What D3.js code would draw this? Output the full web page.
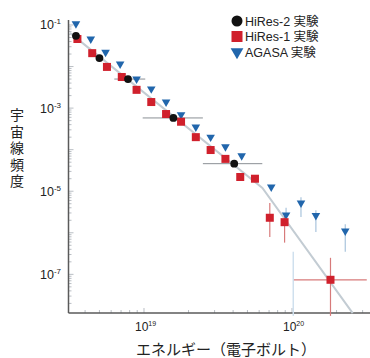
<!DOCTYPE html>
<html>
<head>
<meta charset="utf-8">
<script src="https://cdn.jsdelivr.net/npm/d3@7"></script>
<style>
  body { margin: 0; background: #fff; }
  text { font-family: "Liberation Sans", "Noto Sans CJK JP", sans-serif; fill: #222; }
</style>
</head>
<body>
<div id="spectrumChart"></div>
<script>
// HiRes-1 (red squares)
const hires1Energy = [3.55e18, 4.47e18, 5.62e18, 7.08e18, 8.91e18, 1.12e19, 1.41e19, 1.78e19,
    2.24e19, 2.82e19, 3.55e19, 4.47e19, 5.62e19, 7.08e19, 8.91e19, 1.82e20];
const hires1Flux = [4.6e-2, 2.1e-2, 9.8e-3, 5.6e-3, 2.75e-3, 1.4e-3, 7.2e-4, 4.7e-4,
    2.0e-4, 9.8e-5, 6.0e-5, 2.2e-5, 2.0e-5, 2.3e-6, 1.8e-6, 7.4e-8];
// error bars for the last few HiRes-1 points: [energy, fluxLow, fluxHigh, energyLow, energyHigh]
const hires1Errors = [
    [7.08e19, 7.9e-7, 5.2e-6, null, null],
    [8.91e19, 5.8e-7, 2.6e-6, null, null],
    [1.82e20, 1.0e-8, 2.5e-7, 1.03e20, 3.2e20]
];

// HiRes-2 (black circles)
const hires2Energy = [3.47e18, 5.0e18, 7.8e18, 1.58e19, 4.07e19];
const hires2Flux = [5.5e-2, 1.6e-2, 5.0e-3, 5.8e-4, 4.6e-5];
const hires2Bins = [null, null, [6.3e18, 1.02e19], [9.8e18, 2.5e19], [2.5e19, 6.3e19]];

// AGASA (blue triangles)
const agasaEnergy = [3.47e18, 4.37e18, 5.5e18, 6.9e18, 8.91e18, 1.12e19, 1.41e19, 1.78e19,
    2.24e19, 2.82e19, 3.55e19, 4.57e19, 7.24e19, 9.12e19, 1.15e20, 1.45e20, 2.29e20];
const agasaFlux = [1.07e-1, 4.6e-2, 2.2e-2, 1.15e-2, 5.0e-3, 2.9e-3, 1.4e-3, 6.9e-4,
    3.5e-4, 2.0e-4, 1.17e-4, 7.1e-5, 1.26e-5, 2.7e-6, 5.2e-6, 2.6e-6, 1.1e-6];
const agasaErrors = [
    [9.12e19, 1.45e-6, 4.0e-6],
    [1.15e20, 2.4e-6, 7.2e-6],
    [1.45e20, 1.05e-6, 3.5e-6],
    [2.29e20, 3.5e-7, 1.6e-6]
];
const agasaLimit = [1.02e20, 1.0e-8, 3.5e-7];

// broken power-law fit
const fitLine = [[3.16e18, 6.46e-2], [6.31e19, 1.2e-5], [2.57e20, 1.17e-8]];

const yTickValues = [1e-1, 1e-3, 1e-5, 1e-7];
const yTickLabels = ["-1", "-3", "-5", "-7"];
const xTickValues = [1e19, 1e20];
const xTickLabels = ["19", "20"];

const legendLabels = ["HiRes-2 実験", "HiRes-1 実験", "AGASA 実験"];
const yTitle = "宇宙線頻度";
const xTitle = "エネルギー（電子ボルト）";

function drawSvg() {
    const width = 370, height = 358;
    const left = 68.5, bottom = 313, top = 20;

    const svg = d3.select("#spectrumChart")
        .append("svg")
        .attr("width", width)
        .attr("height", height);

    const x = d3.scaleLog()
        .domain([Math.pow(10, 18.49), Math.pow(10, 20.527)])
        .range([left, width]);
    const y = d3.scaleLog()
        .domain([Math.pow(10, -7.93), Math.pow(10, -0.88)])
        .range([bottom, top]);

    // minor ticks inside the axes
    const yMinor = [];
    for (let e = -8; e <= -1; e++) {
        for (let m = 1; m < 10; m++) {
            const v = m * Math.pow(10, e);
            if (v >= y.domain()[0] && v <= y.domain()[1]) yMinor.push(v);
        }
    }
    svg.append("g").selectAll("line")
        .data(yMinor)
        .enter()
        .append("line")
        .attr("x1", left)
        .attr("x2", d => left + (Math.abs(Math.log10(d) % 1) < 1e-9 ? 5 : 3))
        .attr("y1", d => y(d))
        .attr("y2", d => y(d))
        .attr("stroke", "#b9bec4")
        .attr("stroke-width", 1);

    const xMinor = [];
    for (let e = 18; e <= 20; e++) {
        for (let m = 1; m < 10; m++) {
            const v = m * Math.pow(10, e);
            if (v >= x.domain()[0] && v <= x.domain()[1]) xMinor.push(v);
        }
    }
    svg.append("g").selectAll("line")
        .data(xMinor)
        .enter()
        .append("line")
        .attr("x1", d => x(d))
        .attr("x2", d => x(d))
        .attr("y1", bottom)
        .attr("y2", d => bottom - (Math.abs(Math.log10(d) % 1) < 1e-9 ? 5 : 3))
        .attr("stroke", "#b9bec4")
        .attr("stroke-width", 1);

    // axis lines
    svg.append("line")
        .attr("x1", left).attr("x2", left)
        .attr("y1", top).attr("y2", bottom)
        .attr("stroke", "#5a5a5a").attr("stroke-width", 1.5);
    svg.append("line")
        .attr("x1", left).attr("x2", width)
        .attr("y1", bottom).attr("y2", bottom)
        .attr("stroke", "#5a5a5a").attr("stroke-width", 1.5);

    // tick labels
    yTickValues.forEach((v, i) => {
        const t = svg.append("text")
            .attr("x", 61)
            .attr("y", y(v) + 4.5)
            .attr("text-anchor", "end")
            .attr("font-size", "12.5px");
        t.append("tspan").text("10");
        t.append("tspan").attr("dy", -5).attr("font-size", "8px").text(yTickLabels[i]);
    });
    xTickValues.forEach((v, i) => {
        const t = svg.append("text")
            .attr("x", x(v) - 9)
            .attr("y", 331)
            .attr("font-size", "12px");
        t.append("tspan").text("10");
        t.append("tspan").attr("dy", -5).attr("font-size", "7px").text(xTickLabels[i]);
    });

    // fit line
    const line = d3.line()
        .x(d => x(d[0]))
        .y(d => y(d[1]));
    svg.append("path")
        .datum(fitLine)
        .attr("d", line)
        .attr("fill", "none")
        .attr("stroke", "#c3ccd3")
        .attr("stroke-width", 2);

    // AGASA limit line
    svg.append("line")
        .attr("x1", x(agasaLimit[0])).attr("x2", x(agasaLimit[0]))
        .attr("y1", y(agasaLimit[1])).attr("y2", y(agasaLimit[2]))
        .attr("stroke", "#cfe0ee").attr("stroke-width", 1.5);

    // HiRes-2 bin widths
    svg.append("g").selectAll("line")
        .data(hires2Bins.map((b, i) => [b, hires2Flux[i]]).filter(d => d[0]))
        .enter()
        .append("line")
        .attr("x1", d => x(d[0][0]))
        .attr("x2", d => x(d[0][1]))
        .attr("y1", d => y(d[1]))
        .attr("y2", d => y(d[1]))
        .attr("stroke", "#8a8f94")
        .attr("stroke-width", 1);

    // HiRes-1 error bars
    const errG = svg.append("g")
        .attr("stroke", "#d77a7a")
        .attr("stroke-width", 1.2);
    errG.selectAll(".vbar")
        .data(hires1Errors)
        .enter()
        .append("line")
        .attr("x1", d => x(d[0]))
        .attr("x2", d => x(d[0]))
        .attr("y1", d => y(d[1]))
        .attr("y2", d => y(d[2]));
    errG.selectAll(".hbar")
        .data(hires1Errors.filter(d => d[3]))
        .enter()
        .append("line")
        .attr("x1", d => x(d[3]))
        .attr("x2", d => x(d[4]))
        .attr("y1", d => y(hires1Flux[hires1Flux.length - 1]))
        .attr("y2", d => y(hires1Flux[hires1Flux.length - 1]));

    // AGASA error bars
    svg.append("g").selectAll("line")
        .data(agasaErrors)
        .enter()
        .append("line")
        .attr("x1", d => x(d[0]))
        .attr("x2", d => x(d[0]))
        .attr("y1", d => y(d[1]))
        .attr("y2", d => y(d[2]))
        .attr("stroke", "#a9c4dc")
        .attr("stroke-width", 1.2);

    // AGASA triangles
    const tri = d3.symbol().type(d3.symbolTriangle).size(32);
    svg.append("g").selectAll("path")
        .data(agasaEnergy)
        .enter()
        .append("path")
        .attr("d", tri)
        .attr("transform", (d, i) => "translate(" + x(d) + "," + y(agasaFlux[i]) + ") rotate(180)")
        .attr("fill", "#2166ac");

    // HiRes-1 squares
    svg.append("g").selectAll("rect")
        .data(hires1Energy)
        .enter()
        .append("rect")
        .attr("x", d => x(d) - 4)
        .attr("y", (d, i) => y(hires1Flux[i]) - 4)
        .attr("width", 8)
        .attr("height", 8)
        .attr("fill", "#d0202c");

    // HiRes-2 circles
    svg.append("g").selectAll("circle")
        .data(hires2Energy)
        .enter()
        .append("circle")
        .attr("cx", d => x(d))
        .attr("cy", (d, i) => y(hires2Flux[i]))
        .attr("r", 3.9)
        .attr("fill", "#111");

    // legend
    const legend = svg.append("g").attr("transform", "translate(237,21)");
    legend.append("circle").attr("cx", 0).attr("cy", 0).attr("r", 5.5).attr("fill", "#111");
    legend.append("rect").attr("x", -5.5).attr("y", 10).attr("width", 11).attr("height", 11).attr("fill", "#d0202c");
    legend.append("path")
        .attr("d", d3.symbol().type(d3.symbolTriangle).size(70))
        .attr("transform", "translate(0,31) rotate(180)")
        .attr("fill", "#2166ac");
    legend.selectAll("text")
        .data(legendLabels)
        .enter()
        .append("text")
        .attr("x", 8)
        .attr("y", (d, i) => i * 15.5 + 4.5)
        .attr("font-size", "12.5px")
        .text(d => d);

    // axis titles
    svg.append("g").selectAll("text")
        .data(yTitle.split(""))
        .enter()
        .append("text")
        .attr("x", 17)
        .attr("y", (d, i) => 120 + i * 16.5)
        .attr("text-anchor", "middle")
        .attr("font-family", "'Noto Sans CJK JP', sans-serif")
        .attr("font-size", "14px")
        .text(d => d);

    svg.append("text")
        .attr("x", 226)
        .attr("y", 355)
        .attr("text-anchor", "middle")
        .attr("font-family", "'Noto Sans CJK JP', sans-serif")
        .attr("font-size", "15px")
        .text(xTitle);
}

drawSvg();
</script>
</body>
</html>
